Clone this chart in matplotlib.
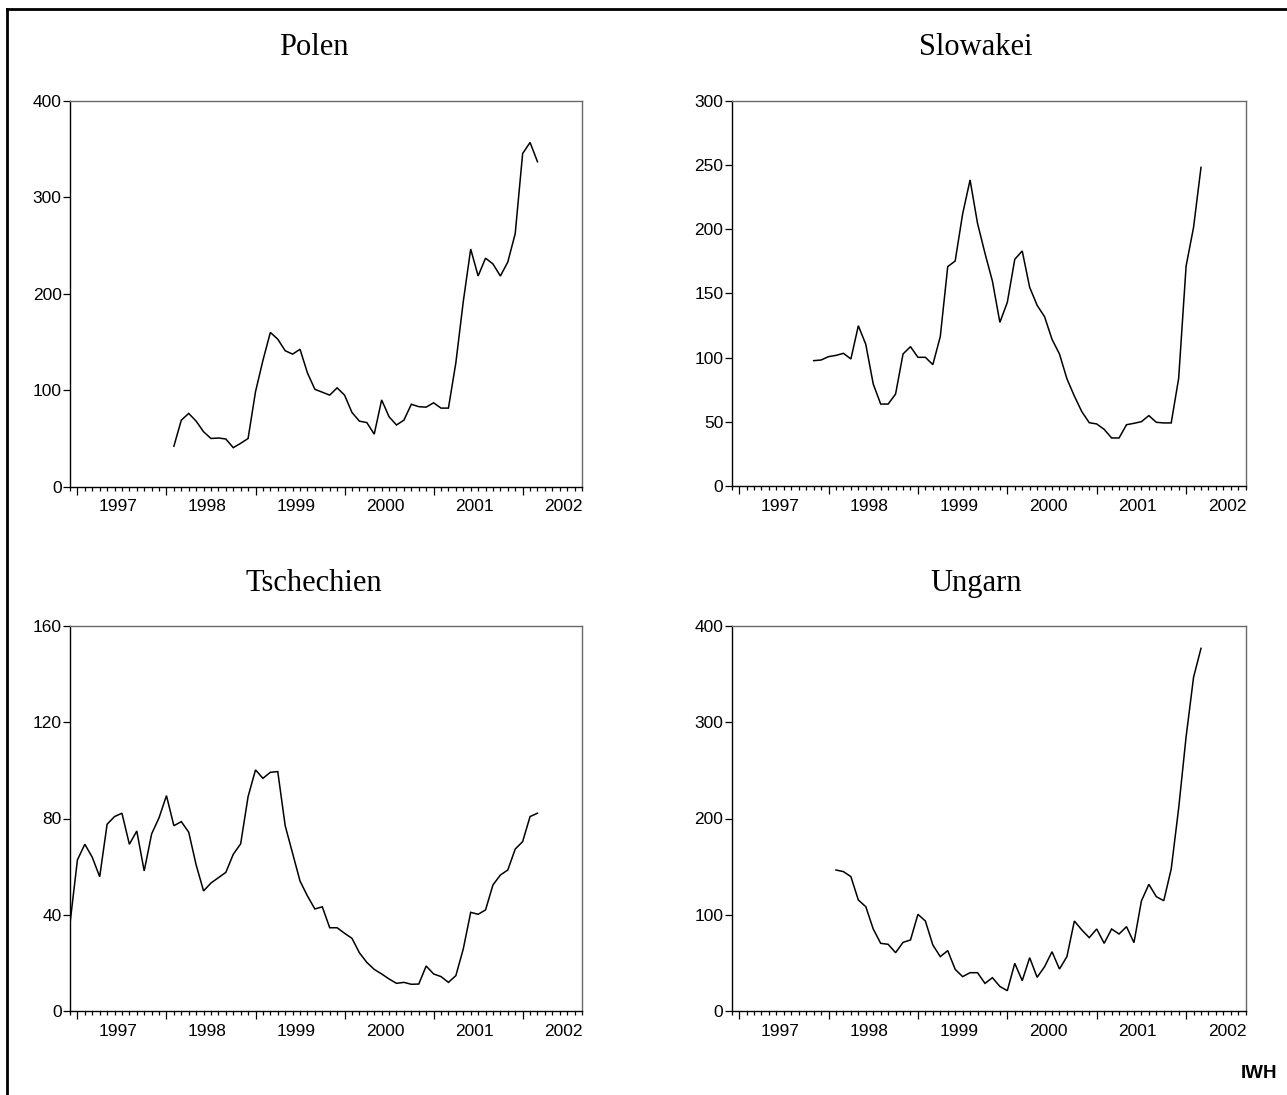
import matplotlib
matplotlib.use("Agg")
import matplotlib.pyplot as plt
from matplotlib.lines import Line2D
import numpy as np
import pandas as pd

# ---------------- data ----------------
base_period = "1997-01"
axis_start = "1996-12"
axis_end = "2002-09"
years = [1997, 1998, 1999, 2000, 2001, 2002]

polen_title = "Polen"
polen_start = "1998-02"
polen_values = [42, 69, 76, 68, 57, 50, 50.5, 49.5, 40.5, 45, 50,
                98.5, 131, 160, 153, 141, 137.5, 142.5, 118, 101, 98, 95, 102.5,
                95, 77, 68, 66.5, 54.5, 90, 72.5, 64, 69, 85.5, 83, 82.5,
                87, 81.5, 81.5, 128.5, 192, 246.5, 218.5, 237, 231, 218.5, 233, 262.5,
                345.5, 357, 337]
polen_yticks = [0, 100, 200, 300, 400]

slowakei_title = "Slowakei"
slowakei_start = "1997-11"
slowakei_values = [97.6, 98.1,
                   100.7, 101.7, 103.3, 98.9, 124.8, 110.3, 79.4, 63.8, 63.8, 71.6, 102.8, 108.5,
                   100.2, 100.2, 94.5, 116.3, 170.8, 175.2, 211.8, 238.3, 204.5, 181.2, 159.5, 127.4,
                   143, 176.5, 183, 154.7, 140.7, 131.8, 114.2, 102.8, 83.5, 70, 57.9, 49.3,
                   48.3, 44.1, 37.4, 37.4, 47.7, 48.8, 50.1, 54.8, 49.6, 49.1, 49.1, 83.8,
                   171.3, 201.4, 248.1]
slowakei_yticks = [0, 50, 100, 150, 200, 250, 300]

tschechien_title = "Tschechien"
tschechien_start = "1996-12"
tschechien_values = [36.4,
                     62.8, 69.3, 63.9, 55.8, 77.6, 80.8, 82.2, 69.3, 74.8, 58.2, 73.6, 80.3,
                     89.5, 77, 78.7, 74.3, 60.7, 49.9, 53.2, 55.4, 57.6, 65.1, 69.5, 89.1,
                     100.2, 96.7, 99.2, 99.5, 77, 65.5, 54, 47.8, 42.4, 43.3, 34.6, 34.6,
                     32.3, 30.2, 24.2, 20.2, 17.3, 15.4, 13.3, 11.5, 11.9, 11.1, 11.2, 18.7,
                     15.4, 14.3, 11.9, 14.7, 25.8, 41, 40.2, 42, 52.4, 56.5, 58.6, 67.3,
                     70.4, 80.8, 82.2]
tschechien_yticks = [0, 40, 80, 120, 160]

ungarn_title = "Ungarn"
ungarn_start = "1998-02"
ungarn_values = [146.5, 144.8, 139.6, 115.3, 108.4, 85.2, 70.3, 69.3, 60.6, 71.3, 73.8,
                 100.4, 93.5, 68.6, 56.5, 62.7, 43.3, 35.7, 39.8, 39.8, 28.7, 34.6, 25.5,
                 21.1, 49.5, 31.5, 55.4, 35, 46, 61.6, 43.6, 56.5, 93.5, 84.2, 76.2,
                 85.2, 70.3, 85.2, 80, 87.6, 71, 114.3, 131.6, 118.8, 114.6, 147.5, 210.6,
                 285, 346.7, 376.8]
ungarn_yticks = [0, 100, 200, 300, 400]

footer_text = "IWH"

# ---------------- helpers ----------------
base = pd.Period(base_period, freq="M")


def month_index(p):
    return (pd.Period(p, freq="M") - base).n


def series_x(start, n):
    s = month_index(start)
    return np.arange(s, s + n)


W, H = 1287, 1095
fig = plt.figure(figsize=(W / 100, H / 100), dpi=100)
fig.patch.set_facecolor("white")

label_font = ["Liberation Sans", "DejaVu Sans"]
title_font = ["Liberation Serif", "DejaVu Serif"]

x_lo, x_hi = month_index(axis_start), month_index(axis_end)
year_ticks = [month_index(f"{y}-01") for y in years]
label_pos = [month_index(f"{y}-01") + 5.5 for y in years]
month_ticks = np.arange(x_lo, x_hi + 1)

panels = [
    # (title, start, values, yticks, rect px: left, top, width, height, title centre x, title baseline y)
    (polen_title, polen_start, polen_values, polen_yticks, (70, 101, 512, 385.7), 314, 55),
    (slowakei_title, slowakei_start, slowakei_values, slowakei_yticks, (731.7, 100.7, 514, 385.3), 976, 55),
    (tschechien_title, tschechien_start, tschechien_values, tschechien_yticks, (70, 626, 512, 385), 314, 591),
    (ungarn_title, ungarn_start, ungarn_values, ungarn_yticks, (731.7, 626, 514, 385), 976, 591),
]

for title, start, vals, yt, (l, t, w, h), tcx, tby in panels:
    ax = fig.add_axes([l / W, 1 - (t + h) / H, w / W, h / H])
    x = series_x(start, len(vals))
    ax.plot(x, vals, color="black", lw=1.1, solid_joinstyle="miter")
    ax.set_xlim(x_lo, x_hi)
    ax.set_ylim(yt[0], yt[-1])
    ax.set_yticks(yt)
    ax.set_yticklabels([str(v) for v in yt], fontfamily=label_font, fontsize=12.5)
    ax.tick_params(axis="y", direction="out", length=5.2, width=0.9, pad=0.8, colors="black")
    ax.set_xticks(year_ticks)
    ax.set_xticklabels([])
    ax.set_xticks(month_ticks, minor=True)
    ax.tick_params(axis="x", which="major", direction="out", length=6, width=0.9)
    ax.tick_params(axis="x", which="minor", direction="out", length=3.2, width=0.9)
    for side in ("left", "bottom"):
        ax.spines[side].set_color("black")
        ax.spines[side].set_linewidth(1.0)
    for side in ("top", "right"):
        ax.spines[side].set_color("#6a6a6a")
        ax.spines[side].set_linewidth(1.0)

    sec = ax.secondary_xaxis("bottom")
    sec.set_xticks(label_pos)
    sec.set_xticklabels([str(y) for y in years], fontfamily=label_font, fontsize=12.5)
    sec.tick_params(length=0, pad=9)
    sec.spines["bottom"].set_visible(False)

    fig.text(tcx / W, 1 - tby / H, title,
             fontfamily=title_font, fontsize=22, ha="center", va="baseline")

# footer
fig.text(1277 / W, 1 - 1073 / H, footer_text, fontfamily=label_font, fontsize=13.5,
         fontweight="bold", ha="right", va="center")

# outer frame (extends beyond the image to the right and bottom)
fig.add_artist(Line2D([7 / W, 7 / W], [1 - 9 / H, 0], transform=fig.transFigure,
                      color="black", lw=2, solid_capstyle="projecting"))
fig.add_artist(Line2D([7 / W, 1], [1 - 9 / H, 1 - 9 / H], transform=fig.transFigure,
                      color="black", lw=2, solid_capstyle="projecting"))

fig.savefig("out.png", dpi=100, facecolor="white")
